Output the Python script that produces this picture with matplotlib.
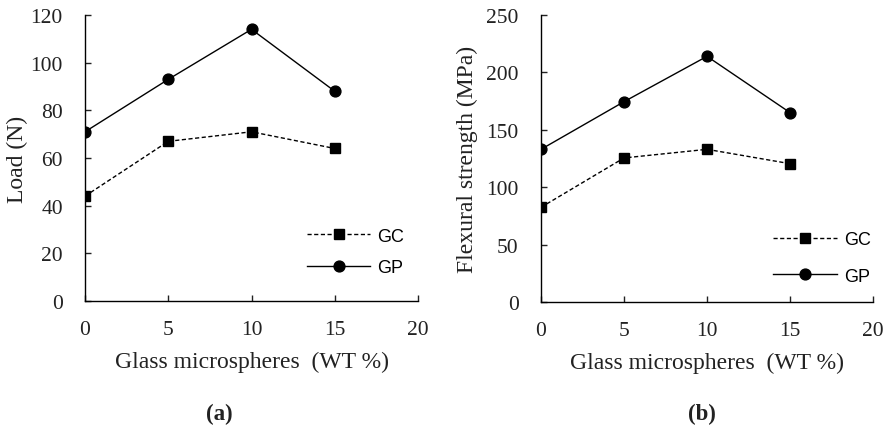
import matplotlib.pyplot as plt
import numpy as np

# Data
wt = [0, 5, 10, 15]
load_gc = [44, 67, 71, 64]
load_gp = [71, 93, 114, 88]
flex_gc = [82.5, 125.5, 133, 120.5]
flex_gp = [133, 174.5, 214, 165]

plt.rcParams['font.family'] = 'Liberation Serif'

fig = plt.figure(figsize=(8.9, 4.27), dpi=100)
ax1 = fig.add_axes([0.0955, 0.2927, 0.3742, 0.6698])
ax2 = fig.add_axes([0.6079, 0.2904, 0.3730, 0.6721])


def style_axes(ax, ymax, ystep, ylabel, ylab_x, leg_anchor, leg_spacing):
    ax.set_xlim(0, 20)
    ax.set_ylim(0, ymax)
    ax.set_xticks(np.arange(0, 21, 5))
    ax.set_yticks(np.arange(0, ymax + 1, ystep))
    ax.spines['top'].set_visible(False)
    ax.spines['right'].set_visible(False)
    for s in ['left', 'bottom']:
        ax.spines[s].set_linewidth(1.0)
    ax.tick_params(direction='in', length=4.5, width=1.0, labelsize=15.5,
                   colors='#222222')
    ax.tick_params(axis='x', pad=14)
    ax.tick_params(axis='y', pad=16)
    ax.set_xlabel('Glass microspheres  (WT %)', fontsize=17, color='#222222')
    ax.xaxis.label.set_va('center')
    ax.xaxis.set_label_coords(0.5, -0.21)
    ax.set_ylabel(ylabel, fontsize=17, color='#222222')
    ax.yaxis.label.set_va('center')
    ax.yaxis.set_label_coords(ylab_x, 0.5)
    ax.legend(loc='lower left', bbox_to_anchor=leg_anchor, frameon=False,
              handlelength=3.5, handletextpad=0.4, labelspacing=leg_spacing,
              borderpad=0, borderaxespad=0,
              prop={'family': 'Liberation Sans', 'size': 13})


for ax, gc, gp in [(ax1, load_gc, load_gp), (ax2, flex_gc, flex_gp)]:
    ax.plot(wt, gc, color='black', linestyle=(0, (3, 1.8)), linewidth=1.0,
            marker='s', markersize=7, label='GC')
    ax.plot(wt, gp, color='black', linestyle='-', linewidth=1.0,
            marker='o', markersize=7.8, label='GP')

style_axes(ax1, 120, 20, 'Load (N)', -0.204, (0.667, 0.087), 0.8)
style_axes(ax2, 250, 50, 'Flexural strength (MPa)', -0.223, (0.70, 0.06), 1.1)

fig.text(219 / 890, 1 - 414 / 427, '(a)', fontsize=16.5, fontweight='bold',
         ha='center', va='center', color='#222222')
fig.text(702 / 890, 1 - 414 / 427, '(b)', fontsize=16.5, fontweight='bold',
         ha='center', va='center', color='#222222')

fig.savefig('out.png', dpi=100)
